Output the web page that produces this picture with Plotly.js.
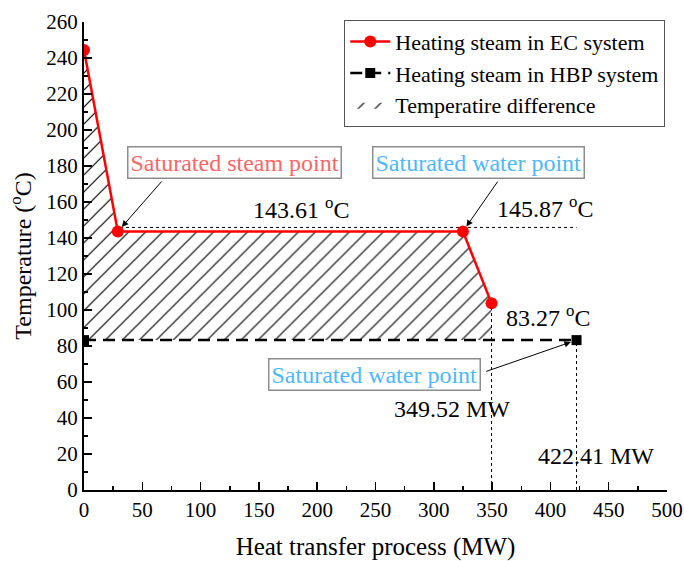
<!DOCTYPE html>
<html>
<head>
<meta charset="utf-8">
<script src="https://cdn.plot.ly/plotly-3.0.1.min.js"></script>
<style>
  html, body { margin: 0; padding: 0; background: #fff; }
  #chart { width: 684px; height: 561px; }
</style>
</head>
<body>
<div id="chart"></div>
<script>
// Heating steam in the EC system: heat transferred (MW) vs temperature (°C)
const ecHeat = [0, 29, 325, 349.52];
const ecTemp = [244.4, 143.61, 143.61, 103.8];

// Heating steam in the HBP system
const hbpHeat = [0, 422.41];
const hbpTemp = [83.27, 83.27];

// Saturation temperature reference line (°C)
const refTemp = 145.87;

const serif = 'Liberation Serif';

// Temperature-difference region between the two curves
const diffX = ecHeat.concat([ecHeat[ecHeat.length - 1], hbpHeat[0]]);
const diffY = ecTemp.concat([hbpTemp[0], hbpTemp[0]]);

const traces = [
  {
    x: diffX, y: diffY,
    type: 'scatter', mode: 'lines',
    fill: 'toself',
    fillcolor: 'rgba(255,255,255,0)',
    fillpattern: { shape: '/', fgcolor: '#000', bgcolor: '#fff', size: 12, solidity: 0.1 },
    line: { width: 0, color: '#000' },
    name: 'Temperatire difference',
    legendrank: 3,
    hoverinfo: 'skip'
  },
  {
    x: hbpHeat, y: hbpTemp,
    type: 'scatter', mode: 'lines+markers',
    line: { color: '#000', width: 2.5, dash: '12px,7px' },
    marker: { symbol: 'square', size: 10, color: '#000' },
    name: 'Heating steam in HBP system',
    legendrank: 2
  },
  {
    x: ecHeat, y: ecTemp,
    type: 'scatter', mode: 'lines+markers',
    line: { color: '#ff0000', width: 2.5 },
    marker: { symbol: 'circle', size: 12, color: '#ff0000' },
    name: 'Heating steam in EC system',
    legendrank: 1
  }
];

const hbpEnd = hbpHeat[hbpHeat.length - 1];
const ecEnd = ecHeat[ecHeat.length - 1];
const thin = { color: '#000', width: 1, dash: '3px,3px' };

const shapes = [
  // saturation reference line
  { type: 'line', xref: 'x', yref: 'y', x0: 0, x1: hbpEnd, y0: refTemp, y1: refTemp, line: thin, layer: 'below' },
  // drop lines to the heat axis
  { type: 'line', xref: 'x', yref: 'y', x0: ecEnd, x1: ecEnd, y0: 0, y1: ecTemp[ecTemp.length - 1], line: thin },
  { type: 'line', xref: 'x', yref: 'y', x0: hbpEnd, x1: hbpEnd, y0: 0, y1: hbpTemp[1], line: thin }
];

const boxLabel = (text, x, y, color) => ({
  text: text, x: x, y: y, xref: 'x', yref: 'y', showarrow: false,
  font: { family: serif, size: 24, color: color },
  bordercolor: '#8c8c8c', borderwidth: 1.5, borderpad: 2, bgcolor: '#fff'
});
const plainLabel = (text, x, y) => ({
  text: text, x: x, y: y, xref: 'x', yref: 'y', showarrow: false,
  font: { family: serif, size: 24, color: '#000' }
});
const pointer = (x, y, ax, ay) => ({
  text: '', x: x, y: y, ax: ax, ay: ay, xref: 'x', yref: 'y', axref: 'x', ayref: 'y',
  showarrow: true, arrowhead: 2, arrowsize: 1.3, arrowwidth: 1, arrowcolor: '#000', standoff: 6
});

const annotations = [
  boxLabel('Saturated steam point', 129.4, 181.7, '#ff6666'),
  boxLabel('Saturated water point', 338.6, 181.7, '#4db8ff'),
  boxLabel('Saturated water point', 249.4, 63.9, '#4db8ff'),
  pointer(ecHeat[1], ecTemp[1], 67.7, 172.2),
  pointer(ecHeat[2], ecTemp[2], 355.7, 172.2),
  pointer(hbpEnd, hbpTemp[1], 343.7, 65.6),
  plainLabel(ecTemp[1].toFixed(2) + ' <sup>o</sup>C', 186, 156.5),
  plainLabel(refTemp.toFixed(2) + ' <sup>o</sup>C', 395, 157.5),
  plainLabel(hbpTemp[1].toFixed(2) + ' <sup>o</sup>C', 398, 96.5),
  plainLabel(ecEnd.toFixed(2) + ' MW', 315.4, 45),
  plainLabel(hbpEnd.toFixed(2) + ' MW', 438.9, 18.9)
];

const axisCommon = {
  showgrid: false, zeroline: false,
  showline: true, linecolor: '#000', linewidth: 2,
  ticks: 'inside', ticklen: 8, tickwidth: 1.5, tickcolor: '#000',
  tickfont: { family: serif, size: 21, color: '#000' },
  mirror: false
};

const layout = {
  width: 684, height: 561,
  margin: { l: 84, r: 17, t: 22, b: 71 },
  paper_bgcolor: '#fff', plot_bgcolor: '#fff',
  font: { family: serif, color: '#000' },
  showlegend: true,
  legend: {
    x: 0.997, xanchor: 'right', y: 1.005, yanchor: 'top',
    bgcolor: '#fff', bordercolor: '#555', borderwidth: 1,
    font: { family: serif, size: 22, color: '#000' },
    tracegroupgap: 0, itemwidth: 40
  },
  xaxis: Object.assign({}, axisCommon, {
    range: [0, 500], dtick: 50, tick0: 0,
    minor: { dtick: 25, ticks: 'inside', ticklen: 4, tickwidth: 1.5, tickcolor: '#000' },
    title: { text: 'Heat transfer process (MW)', font: { family: serif, size: 25 }, standoff: 18 }
  }),
  yaxis: Object.assign({}, axisCommon, {
    range: [0, 260], dtick: 20, tick0: 0,
    minor: { dtick: 10, ticks: 'inside', ticklen: 4, tickwidth: 1.5, tickcolor: '#000' },
    title: { text: 'Temperature (<sup>o</sup>C)', font: { family: serif, size: 24 }, standoff: 8 }
  }),
  shapes: shapes,
  annotations: annotations
};

Plotly.newPlot('chart', traces, layout, { displayModeBar: false, staticPlot: true });
</script>
</body>
</html>
